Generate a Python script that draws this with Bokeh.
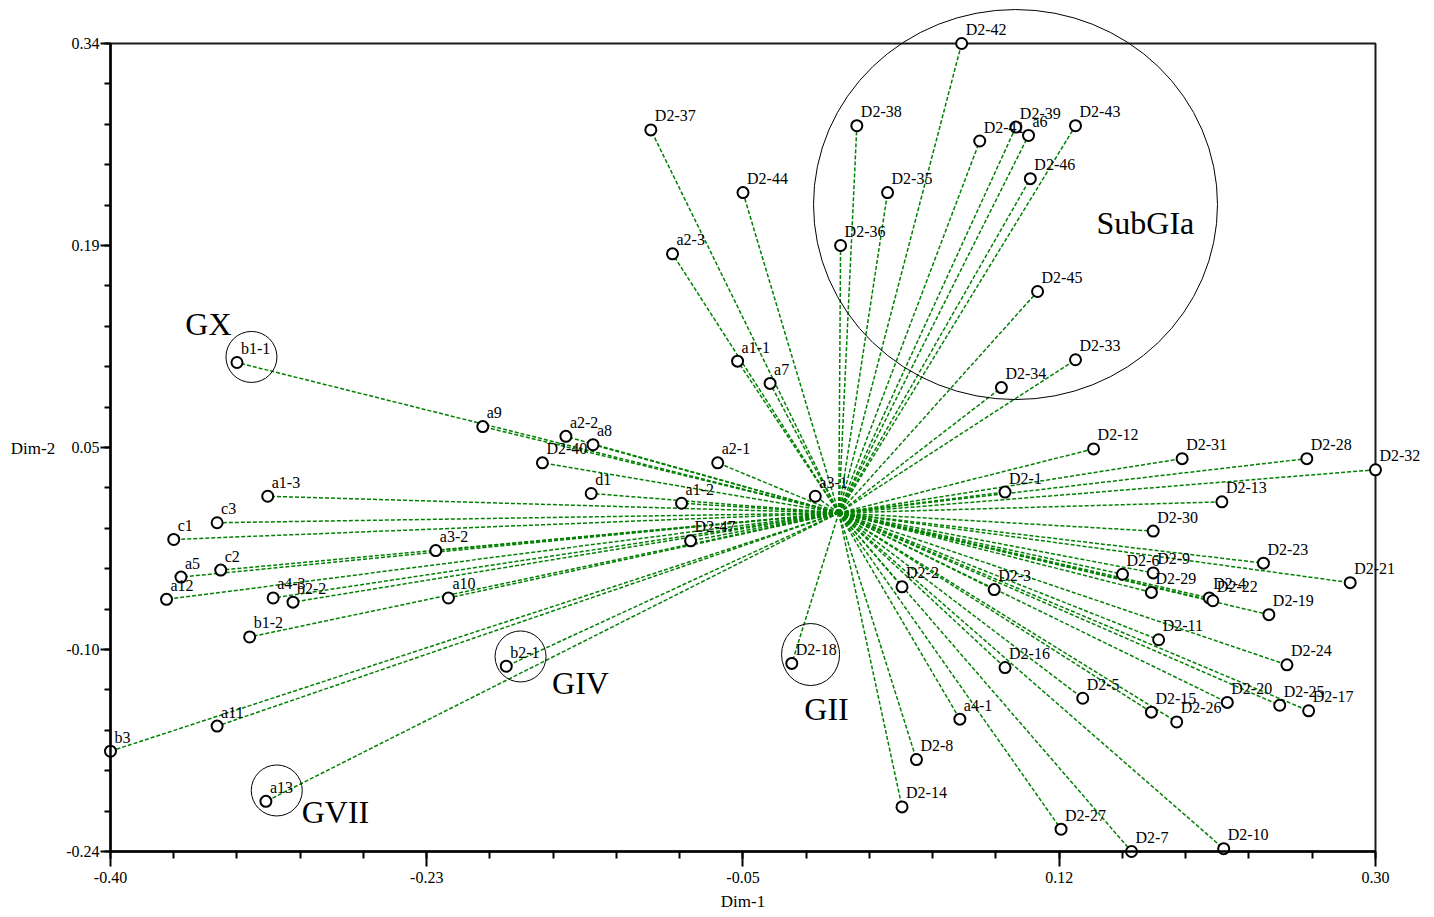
import numpy as np
from bokeh.plotting import figure
from bokeh.models import Range1d, FixedTicker, ColumnDataSource, BoxAnnotation, Label
from bokeh.embed import file_html
from bokeh.resources import INLINE
from bokeh.core.properties import value

# ---------------- data ----------------
names = ["b1-1", "a9", "a2-2", "a8", "D2-40", "a2-1", "d1", "a1-2", "a1-3", "c3",
         "c1", "a3-2", "c2", "a5", "a12", "a4-3", "b2-2", "a10", "b1-2", "a11",
         "b3", "a13", "b2-1", "D2-47", "a3-1", "a1-1", "a7", "a2-3", "D2-37", "D2-44",
         "D2-38", "D2-35", "D2-36", "D2-42", "D2-41", "D2-39", "a6", "D2-43", "D2-46", "D2-45",
         "D2-33", "D2-34", "D2-12", "D2-31", "D2-28", "D2-32", "D2-1", "D2-13", "D2-30", "D2-23",
         "D2-21", "D2-6", "D2-9", "D2-29", "D2-3", "D2-4", "D2-22", "D2-19", "D2-11", "D2-24",
         "D2-16", "D2-5", "a4-1", "D2-15", "D2-26", "D2-20", "D2-25", "D2-17", "D2-27", "D2-7",
         "D2-10", "D2-2", "D2-18", "D2-8", "D2-14"]
dim1 = [-0.330, -0.194, -0.148, -0.133, -0.161, -0.064, -0.134, -0.084, -0.313, -0.341,
        -0.365, -0.220, -0.339, -0.361, -0.369, -0.310, -0.299, -0.213, -0.323, -0.341,
        -0.400, -0.314, -0.181, -0.079, -0.010, -0.053, -0.035, -0.089, -0.101, -0.050,
        0.013, 0.030, 0.004, 0.071, 0.081, 0.101, 0.108, 0.134, 0.109, 0.113,
        0.134, 0.093, 0.144, 0.193, 0.262, 0.300, 0.095, 0.215, 0.177, 0.238,
        0.286, 0.160, 0.177, 0.176, 0.089, 0.208, 0.210, 0.241, 0.180, 0.251,
        0.095, 0.138, 0.070, 0.176, 0.190, 0.218, 0.247, 0.263, 0.126, 0.165,
        0.216, 0.038, -0.023, 0.046, 0.038]
dim2 = [0.111, 0.065, 0.058, 0.052, 0.039, 0.039, 0.017, 0.010, 0.015, -0.004,
        -0.016, -0.024, -0.038, -0.043, -0.059, -0.058, -0.061, -0.058, -0.086, -0.150,
        -0.168, -0.204, -0.107, -0.017, 0.015, 0.112, 0.096, 0.189, 0.278, 0.233,
        0.281, 0.233, 0.195, 0.340, 0.270, 0.280, 0.274, 0.281, 0.243, 0.162,
        0.113, 0.093, 0.049, 0.042, 0.042, 0.034, 0.018, 0.011, -0.010, -0.033,
        -0.047, -0.041, -0.040, -0.054, -0.052, -0.058, -0.060, -0.070, -0.088, -0.106,
        -0.108, -0.130, -0.145, -0.140, -0.147, -0.133, -0.135, -0.139, -0.224, -0.240,
        -0.238, -0.050, -0.105, -0.174, -0.208]
center_x = 0.003
center_y = 0.003

group_names = ["GX", "GIV", "GII", "GVII", "SubGIa"]
group_text_x = [-0.3458, -0.1399, -0.0038, -0.2755, 0.1727]
group_text_y = [0.1383, -0.1194, -0.1374, -0.2120, 0.2115]
ring_x = [-0.3220, -0.1731, -0.0126, -0.3080]
ring_y = [0.1150, -0.1000, -0.0986, -0.1962]
big_ring_x = 0.1008
big_ring_y = 0.2244

x_ticks = [-0.40, -0.225, -0.05, 0.125, 0.30]
x_tick_labels = ["-0.40", "-0.23", "-0.05", "0.12", "0.30"]
y_ticks = [-0.24, -0.095, 0.05, 0.195, 0.34]
y_tick_labels = ["-0.24", "-0.10", "0.05", "0.19", "0.34"]

# ---------------- figure ----------------
FONT = "Liberation Serif"
W, H = 1430, 915
p = figure(width=W, height=H,
           x_range=Range1d(-0.46087, 0.33044), y_range=Range1d(-0.28594, 0.37087),
           output_backend="svg", toolbar_location=None, min_border=0)
p.outline_line_color = None
p.grid.visible = False
p.background_fill_color = "white"
p.border_fill_color = "white"

# frame box
p.add_layout(BoxAnnotation(left=-0.40, right=0.30, bottom=-0.24, top=0.34,
                           fill_alpha=0, fill_color=None, line_color="#1a1a1a",
                           line_alpha=1.0, line_width=2, level="underlay"))

# axes
xa = p.xaxis[0]
xa.fixed_location = -0.24
xa.bounds = (-0.40, 0.30)
xa.ticker = FixedTicker(ticks=x_ticks, minor_ticks=list(np.linspace(-0.40, 0.30, 21)))
xa.major_label_overrides = dict(zip(x_ticks, x_tick_labels))
xa.major_tick_out = 15
xa.major_tick_in = 0
xa.minor_tick_out = 7
xa.minor_tick_in = 0
xa.axis_line_width = 2.5
xa.major_tick_line_width = 2
xa.minor_tick_line_width = 2
xa.major_label_standoff = 5
xa.major_label_text_font = FONT
xa.major_label_text_font_size = "16px"
xa.major_label_text_color = "black"

ya = p.yaxis[0]
ya.fixed_location = -0.40
ya.bounds = (-0.24, 0.34)
ya.ticker = FixedTicker(ticks=y_ticks, minor_ticks=list(np.linspace(-0.24, 0.34, 21)))
ya.major_label_overrides = dict(zip(y_ticks, y_tick_labels))
ya.major_tick_out = 10
ya.major_tick_in = 0
ya.minor_tick_out = 6
ya.minor_tick_in = 0
ya.axis_line_width = 2.5
ya.major_tick_line_width = 2
ya.minor_tick_line_width = 2
ya.major_label_standoff = 1
ya.major_label_text_font = FONT
ya.major_label_text_font_size = "16px"
ya.major_label_text_color = "black"

p.add_layout(Label(x=-0.05, y=-0.2762, text="Dim-1", text_align="center",
                   text_baseline="middle", text_font=FONT, text_font_size="17px",
                   text_color="black"))
p.add_layout(Label(x=-0.4429, y=0.0493, text="Dim-2", text_align="center",
                   text_baseline="middle", text_font=FONT, text_font_size="17px",
                   text_color="black"))

# ---------------- marks ----------------
src = ColumnDataSource(dict(name=names, x=dim1, y=dim2,
                            cx=[center_x] * len(names), cy=[center_y] * len(names)))

p.segment(x0="cx", y0="cy", x1="x", y1="y", source=src,
          line_color="#008000", line_width=1.5, line_dash="4 2")

# group rings
p.ellipse(x=ring_x, y=ring_y, width=[51, 51, 58, 51], height=[51, 51, 62, 51],
          width_units="screen", height_units="screen",
          fill_color=None, line_color="black", line_width=1)
p.ellipse(x=[big_ring_x], y=[big_ring_y], width=404, height=390,
          width_units="screen", height_units="screen",
          fill_color=None, line_color="black", line_width=1)

p.scatter(x="x", y="y", source=src, marker="circle", size=11,
          fill_color="white", line_color="black", line_width=2)

p.text(x="x", y="y", text="name", source=src, x_offset=4, y_offset=-14,
       text_font=value(FONT), text_font_size="16px", text_color="black",
       text_baseline="middle", text_align="left")

p.text(x=group_text_x, y=group_text_y, text=group_names,
       text_font=value(FONT), text_font_size="32px", text_color="black",
       text_baseline="middle", text_align="center")

open("out.html", "w").write(file_html(p, INLINE))
